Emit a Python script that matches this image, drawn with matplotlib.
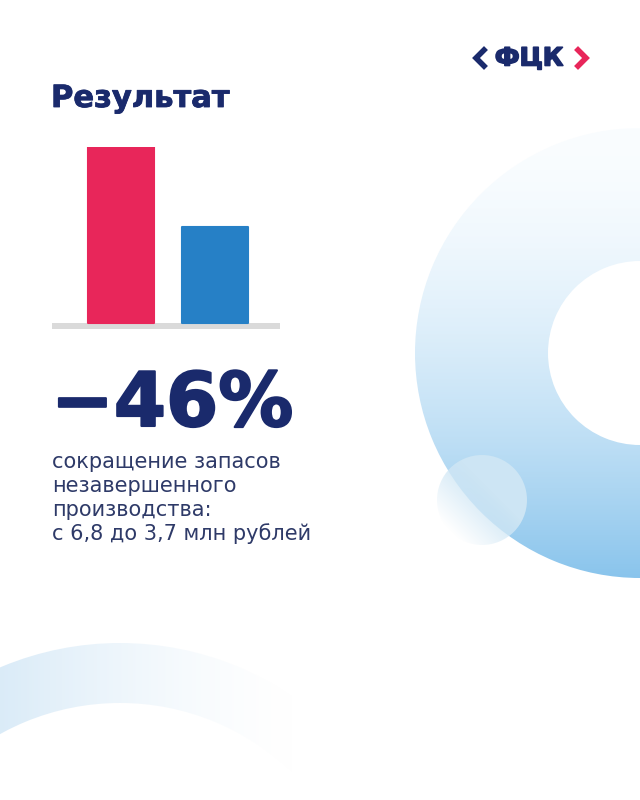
import numpy as np
import matplotlib
matplotlib.use('Agg')
import matplotlib.pyplot as plt
import matplotlib.patheffects as pe
from matplotlib.patches import Wedge, Circle

# данные
categories = ['было', 'стало']
values = [6.8, 3.7]
bar_colors = ['#E8265A', '#2680C6']
title = 'Результат'
big_number = '\u221246%'
caption = ['сокращение запасов', 'незавершенного', 'производства:', 'с 6,8 до 3,7 млн рублей']

navy = '#1A2A6C'
text_col = '#2E3A68'

W, H = 640, 800
fig = plt.figure(figsize=(6.4, 8), dpi=100)
fig.patch.set_facecolor('white')

# фон в пикселях
bg = fig.add_axes([0, 0, 1, 1])
bg.set_xlim(0, W)
bg.set_ylim(H, 0)
bg.axis('off')

# большое кольцо справа
cx, cy, r_out, r_in = 640, 353, 225, 92
yy, xx = np.mgrid[cy - r_out:cy + r_out, cx - r_out:cx + r_out]
t = (yy - (cy - r_out)) / (2 * r_out)
t = t ** 1.7
top = np.array([250, 253, 255]) / 255
bot = np.array([137, 196, 236]) / 255
img = top[None, None, :] * (1 - t[..., None]) + bot[None, None, :] * t[..., None]
im = bg.imshow(img, extent=(cx - r_out, cx + r_out, cy + r_out, cy - r_out),
               origin='upper', interpolation='bilinear', zorder=1)
ring = Wedge((cx, cy), r_out, 0, 360, width=r_out - r_in, transform=bg.transData,
             facecolor='none', edgecolor='none')
bg.add_patch(ring)
im.set_clip_path(ring)

# маленький круг с прозрачностью
sx, sy, sr = 482, 500, 45
yy, xx = np.mgrid[sy - sr:sy + sr, sx - sr:sx + sr]
d = ((xx - (sx - sr)) + ((sy + sr) - yy)) / (4 * sr)
a = np.clip((d - 0.15) / 0.45, 0, 1)
simg = np.zeros(xx.shape + (4,))
simg[..., 0] = 205 / 255
simg[..., 1] = 229 / 255
simg[..., 2] = 244 / 255
simg[..., 3] = a
im2 = bg.imshow(simg, extent=(sx - sr, sx + sr, sy + sr, sy - sr),
                origin='upper', interpolation='bilinear', zorder=2)
circ = Circle((sx, sy), sr, transform=bg.transData, facecolor='none', edgecolor='none')
bg.add_patch(circ)
# под кругом белая подложка, чтобы кольцо растворялось
under = np.ones(xx.shape + (4,))
under[..., 3] = np.clip(1 - d * 1.6, 0, 1) * 0.95
im3 = bg.imshow(under, extent=(sx - sr, sx + sr, sy + sr, sy - sr),
                origin='upper', interpolation='bilinear', zorder=1.5)
circ2 = Circle((sx, sy), sr, transform=bg.transData, facecolor='none', edgecolor='none')
bg.add_patch(circ2)
im3.set_clip_path(circ2)
im2.set_clip_path(circ)

# дуга внизу слева
ax0, ay0, ar, aw = 120, 950, 307, 60
yy, xx = np.mgrid[ay0 - ar:ay0, 0:ax0 + ar]
al = np.clip(1 - xx / 300, 0, 1) ** 1.5 * 0.9
aimg = np.zeros(xx.shape + (4,))
aimg[..., 0] = 214 / 255
aimg[..., 1] = 233 / 255
aimg[..., 2] = 247 / 255
aimg[..., 3] = al
im4 = bg.imshow(aimg, extent=(0, ax0 + ar, ay0, ay0 - ar),
                origin='upper', interpolation='bilinear', zorder=1)
arc = Wedge((ax0, ay0), ar, 0, 360, width=aw, transform=bg.transData,
            facecolor='none', edgecolor='none')
bg.add_patch(arc)
im4.set_clip_path(arc)

bg.set_xlim(0, W)
bg.set_ylim(H, 0)

# логотип
bg.plot([484, 476, 484], [50, 58, 66], color=navy, lw=4, solid_joinstyle='miter', zorder=5)
bg.plot([578, 586, 578], [50, 58, 66], color='#E8265A', lw=4, solid_joinstyle='miter', zorder=5)
bg.text(529, 58.5, 'ФЦК', color=navy, fontsize=18, fontweight='bold',
        family='DejaVu Sans', ha='center', va='center', zorder=5,
        path_effects=[pe.withStroke(linewidth=1.2, foreground=navy)])

# заголовок
bg.text(51, 107, title, color=navy, fontsize=22, fontweight='bold',
        family='DejaVu Sans', ha='left', va='baseline', zorder=5,
        path_effects=[pe.withStroke(linewidth=0.6, foreground=navy)])

# столбцы
ax = fig.add_axes([52 / W, 1 - 329 / H, 228 / W, 182 / H])
ax.set_facecolor('none')
x = np.arange(len(categories))
ax.bar(x, values, width=0.7, color=bar_colors, edgecolor=bar_colors,
       linewidth=1.5, joinstyle='round', zorder=3)
ax.axhspan(-0.232, 0, color='#DADADA', lw=0, zorder=2)
ax.set_xlim(-0.734, 1.691)
ax.set_ylim(-0.232, 6.8)
ax.axis('off')

# крупная цифра
bg.text(51, 426, big_number, color=navy, fontsize=54, fontweight='bold',
        family='DejaVu Sans', ha='left', va='baseline', zorder=5,
        path_effects=[pe.withStroke(linewidth=1.5, foreground=navy)])

# подпись
for i, line in enumerate(caption):
    bg.text(52, 468 + 24 * i, line, color=text_col, fontsize=15,
            family='DejaVu Sans', ha='left', va='baseline', zorder=5)

fig.savefig('out.png', dpi=100)
